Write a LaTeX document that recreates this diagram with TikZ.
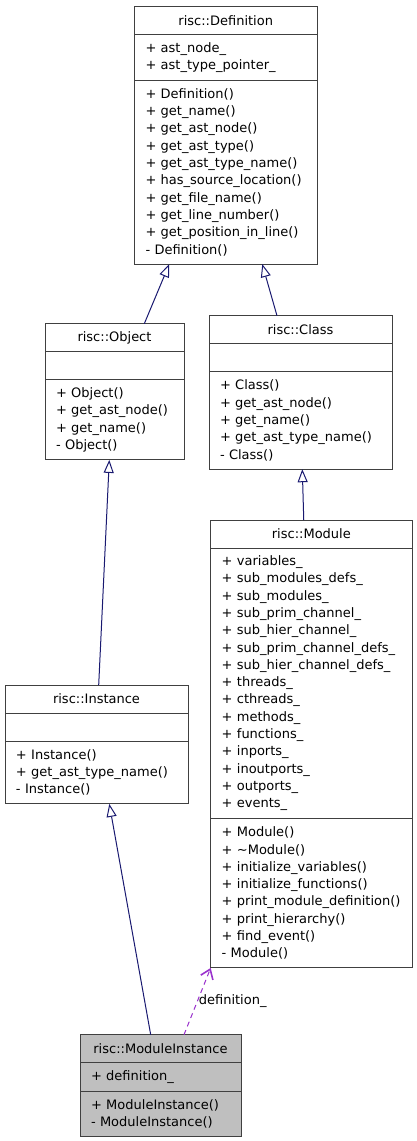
\documentclass[tikz,border=0pt]{standalone}
\usepackage{fontspec}
\setmainfont{DejaVu Sans}
\usepackage{tikz}
\usetikzlibrary{positioning, arrows.meta}
\hyphenpenalty=10000
\exhyphenpenalty=10000

\definecolor{boxgray}{HTML}{404040}
\definecolor{edgeblue}{HTML}{191970}
\definecolor{usepurple}{HTML}{9A32CD}
\definecolor{curgray}{HTML}{BFBFBF}

\tikzset{
  cls/.style={draw=boxgray, line width=1pt, fill=white, outer sep=0pt,
    inner xsep=11pt, inner ysep=0pt, font=\fontsize{13}{17.3}\selectfont},
  head/.style={cls, align=center, minimum height=28pt},
  part/.style={cls, align=left},
  inherit/.style={draw=edgeblue, line width=1pt,
    -{Triangle[fill=white, length=13pt, width=10pt]}},
  uses/.style={draw=usepurple, line width=1pt, dash pattern=on 5pt off 4pt,
    -{Straight Barb[length=9pt, width=13pt, line width=1.6pt]}}
}

\begin{document}
\begin{tikzpicture}[x=1pt, y=-1pt]
  \useasboundingbox (0,0) rectangle (416,1141);

  % risc::Definition
  \node[head, anchor=north west, text width=160.5pt] (defHead) at (134.5,6.5) {risc::Definition};
  \node[part, below=0pt of defHead, text width=160.5pt, minimum height=45.6pt] (defAttr)
    {+~ast\_node\_\\+~ast\_type\_pointer\_};
  \node[part, below=0pt of defAttr, text width=160.5pt, minimum height=184pt] (defOps)
    {+~Definition()\\+~get\_name()\\+~get\_ast\_node()\\+~get\_ast\_type()\\
     +~get\_ast\_type\_name()\\+~has\_source\_location()\\+~get\_file\_name()\\
     +~get\_line\_number()\\+~get\_position\_in\_line()\\-~Definition()};

  % risc::Object
  \node[head, anchor=north west, text width=117pt] (objHead) at (45,323.7) {risc::Object};
  \node[part, below=0pt of objHead, text width=117pt, minimum height=28pt] (objAttr) {};
  \node[part, below=0pt of objAttr, text width=117pt, minimum height=80.2pt] (objOps)
    {+~Object()\\+~get\_ast\_node()\\+~get\_name()\\-~Object()};

  % risc::Class
  \node[head, anchor=north west, text width=161pt] (clsHead) at (209,315.7) {risc::Class};
  \node[part, below=0pt of clsHead, text width=161pt, minimum height=28pt] (clsAttr) {};
  \node[part, below=0pt of clsAttr, text width=161pt, minimum height=97.5pt] (clsOps)
    {+~Class()\\+~get\_ast\_node()\\+~get\_name()\\+~get\_ast\_type\_name()\\-~Class()};

  % risc::Module
  \node[head, anchor=north west, text width=179.3pt] (modHead) at (210.7,520) {risc::Module};
  \node[part, below=0pt of modHead, text width=179.3pt, minimum height=270.5pt] (modAttr)
    {+~variables\_\\+~sub\_modules\_defs\_\\+~sub\_modules\_\\+~sub\_prim\_channel\_\\
     +~sub\_hier\_channel\_\\+~sub\_prim\_channel\_defs\_\\+~sub\_hier\_channel\_defs\_\\
     +~threads\_\\+~cthreads\_\\+~methods\_\\+~functions\_\\+~inports\_\\
     +~inoutports\_\\+~outports\_\\+~events\_};
  \node[part, below=0pt of modAttr, text width=179.3pt, minimum height=149.4pt] (modOps)
    {+~Module()\\+~\textasciitilde Module()\\+~initialize\_variables()\\
     +~initialize\_functions()\\+~print\_module\_definition()\\+~print\_hierarchy()\\
     +~find\_event()\\-~Module()};

  % risc::Instance
  \node[head, anchor=north west, text width=161pt] (insHead) at (5,685) {risc::Instance};
  \node[part, below=0pt of insHead, text width=161pt, minimum height=28pt] (insAttr) {};
  \node[part, below=0pt of insAttr, text width=161pt, minimum height=62.9pt] (insOps)
    {+~Instance()\\+~get\_ast\_type\_name()\\-~Instance()};

  % risc::ModuleInstance
  \node[head, fill=curgray, anchor=north west, text width=139pt] (miHead) at (80,1034.7) {risc::ModuleInstance};
  \node[part, fill=curgray, below=0pt of miHead, text width=139pt, minimum height=28.3pt] (miAttr)
    {+~definition\_};
  \node[part, fill=curgray, below=0pt of miAttr, text width=139pt, minimum height=45.6pt] (miOps)
    {+~ModuleInstance()\\-~ModuleInstance()};

  % inheritance
  \draw[inherit] ([xshift=29.8pt]objHead.north) -- ([xshift=-56.5pt]defOps.south);
  \draw[inherit] ([xshift=-23.5pt]clsHead.north) -- ([xshift=36.5pt]defOps.south);
  \draw[inherit] ([xshift=-7.6pt]modHead.north) -- ([xshift=1.8pt]clsOps.south);
  \draw[inherit] ([xshift=2.2pt]insHead.north) -- ([xshift=-5.2pt]objOps.south);
  \draw[inherit] ([xshift=-9.8pt]miHead.north) -- ([xshift=12.8pt]insOps.south);

  % usage
  \draw[uses] ([xshift=23.5pt]miHead.north) -- (modOps.south west)
    node[midway, right, inner sep=1pt, font=\fontsize{13}{17.3}\selectfont] (defLabel) {definition\_};
\end{tikzpicture}
\end{document}
